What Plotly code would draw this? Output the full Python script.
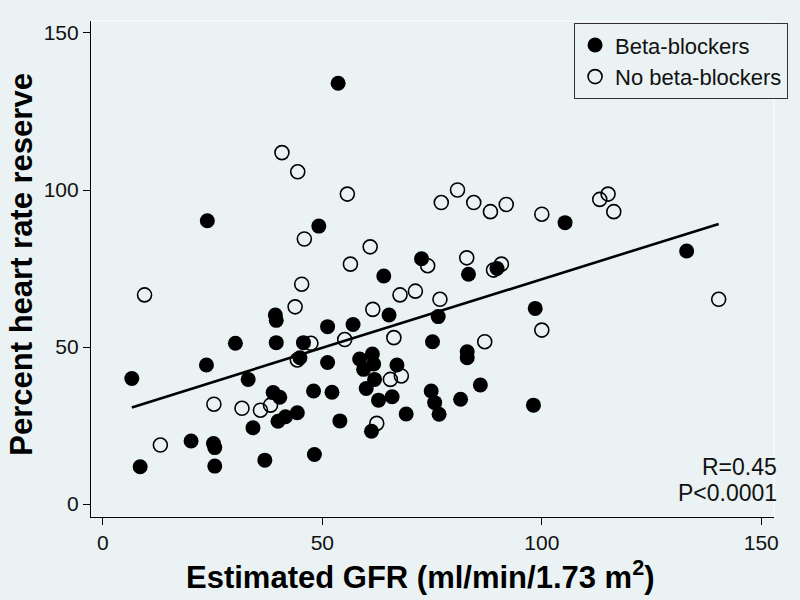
import numpy as np
import plotly.graph_objects as go

# Beta-blocker group (filled circles)
bb_gfr = [53.6, 23.8, 49.2, 72.6, 64.0, 39.3, 39.5, 51.2, 57.0, 65.2, 76.4,
          30.2, 39.5, 45.7, 75.1, 23.6, 44.9, 51.2, 58.5, 61.4, 59.4, 61.7,
          61.9, 60.0, 67.0, 6.6, 33.1, 38.8, 40.3, 48.0, 52.2, 62.8, 65.9,
          74.8, 75.6, 76.6, 69.1, 39.9, 41.6, 44.3, 34.2, 54.0, 61.2, 20.1,
          25.2, 25.5, 8.5, 25.5, 36.9, 48.2, 105.3, 133.0, 83.3, 89.8, 98.5,
          83.0, 83.0, 86.0, 81.5, 98.1]
bb_hrr = [134.0, 90.2, 88.5, 78.1, 72.6, 60.2, 58.5, 56.5, 57.2, 60.2, 59.7,
          51.2, 51.4, 51.4, 51.7, 44.3, 46.6, 45.1, 46.2, 47.8, 42.9, 44.6,
          39.7, 36.8, 44.3, 40.0, 39.7, 35.5, 34.0, 36.0, 35.6, 33.1, 34.2,
          36.0, 32.3, 28.6, 28.7, 26.4, 27.8, 29.1, 24.3, 26.5, 23.2, 20.1,
          19.3, 18.0, 11.9, 12.1, 14.0, 15.8, 89.6, 80.6, 73.2, 75.0, 62.3,
          48.5, 46.6, 37.9, 33.4, 31.5]

# No beta-blocker group (open circles)
nobb_gfr = [40.8, 44.4, 55.7, 45.9, 60.9, 56.4, 74.0, 45.3, 9.5, 67.7, 71.2,
            76.8, 43.8, 61.5, 66.3, 55.1, 47.4, 44.3, 65.5, 68.0, 25.3, 31.7,
            35.9, 38.2, 62.4, 13.1, 77.1, 80.8, 84.5, 88.3, 91.9, 100.0,
            113.2, 115.1, 116.4, 82.9, 89.0, 90.8, 140.3, 87.0, 100.0]
nobb_hrr = [111.9, 105.8, 98.7, 84.4, 81.9, 76.4, 75.9, 70.0, 66.6, 66.6, 67.8,
            65.2, 62.8, 62.0, 53.0, 52.4, 51.2, 45.9, 39.7, 40.8, 31.8, 30.5,
            29.9, 31.5, 25.7, 18.8, 96.0, 100.0, 96.0, 93.1, 95.4, 92.3,
            97.0, 98.7, 93.1, 78.4, 74.5, 76.4, 65.2, 51.7, 55.4]

# linear fit as drawn in the figure
fit_slope = 0.437
fit_intercept = 27.9

bg = "#eaf2f3"
font_family = "Liberation Sans, Arial, sans-serif"

all_x = np.array(bb_gfr + nobb_gfr)
fit_x = np.array([all_x.min(), all_x.max()])
fit_y = fit_intercept + fit_slope * fit_x

fig = go.Figure()
fig.add_trace(go.Scatter(
    x=fit_x, y=fit_y, mode="lines",
    line=dict(color="black", width=2.6),
    showlegend=False, hoverinfo="skip",
))
fig.add_trace(go.Scatter(
    x=bb_gfr, y=bb_hrr, mode="markers", name="Beta-blockers",
    marker=dict(symbol="circle", size=15, color="black",
                line=dict(width=0)),
))
fig.add_trace(go.Scatter(
    x=nobb_gfr, y=nobb_hrr, mode="markers", name="No beta-blockers",
    marker=dict(symbol="circle-open", size=14, color="black",
                line=dict(width=1.6, color="black")),
))

# statistics in the lower right corner
fig.add_annotation(x=1.007, y=0.101, xref="paper", yref="paper",
                   xanchor="right", yanchor="middle", text="R=0.45",
                   showarrow=False, font=dict(size=23, color="#111111"))
fig.add_annotation(x=1.007, y=0.048, xref="paper", yref="paper",
                   xanchor="right", yanchor="middle", text="P<0.0001",
                   showarrow=False, font=dict(size=23, color="#111111"))

# axis titles
fig.add_annotation(x=0.483, y=-0.117, xref="paper", yref="paper",
                   xanchor="center", yanchor="middle", showarrow=False,
                   text="<b>Estimated GFR (ml/min/1.73 m<sup>2</sup>)</b>",
                   font=dict(size=31, color="#000000"))
fig.add_annotation(x=-0.103, y=0.51, xref="paper", yref="paper",
                   xanchor="center", yanchor="middle", showarrow=False,
                   textangle=-90, text="<b>Percent heart rate reserve</b>",
                   font=dict(size=31, color="#000000"))

# faint outline of the plot region
fig.add_shape(type="rect", xref="paper", yref="paper", x0=0, y0=0, x1=1, y1=1,
              line=dict(color="#f7fafa", width=1.5), layer="below")

fig.update_layout(
    width=800, height=600,
    plot_bgcolor=bg, paper_bgcolor=bg,
    font=dict(family=font_family, size=21, color="#111111"),
    margin=dict(l=91, r=21, t=21, b=83),
    legend=dict(
        x=1.0203, y=0.996, xanchor="right", yanchor="top",
        bgcolor=bg, bordercolor="#333333", borderwidth=1.2,
        font=dict(size=22, color="#111111", family=font_family),
        itemwidth=30, tracegroupgap=0,
    ),
)
fig.update_xaxes(
    range=[-2.7, 152.9], tickvals=[0, 50, 100, 150],
    showgrid=False, zeroline=False, automargin=False,
    showline=True, linecolor="black", linewidth=1.2,
    ticks="outside", ticklen=7, tickcolor="black", tickwidth=1,
    tickfont=dict(size=21, color="#111111"),
)
fig.update_yaxes(
    range=[-4.1, 153.8], tickvals=[0, 50, 100, 150],
    showgrid=False, zeroline=False, automargin=False,
    showline=True, linecolor="black", linewidth=1.2,
    ticks="outside", ticklen=7, tickcolor="black", tickwidth=1,
    tickfont=dict(size=21, color="#111111"),
)

fig.write_html("out.html", config={"displayModeBar": False},
               post_script="document.body.style.margin='0px';")
